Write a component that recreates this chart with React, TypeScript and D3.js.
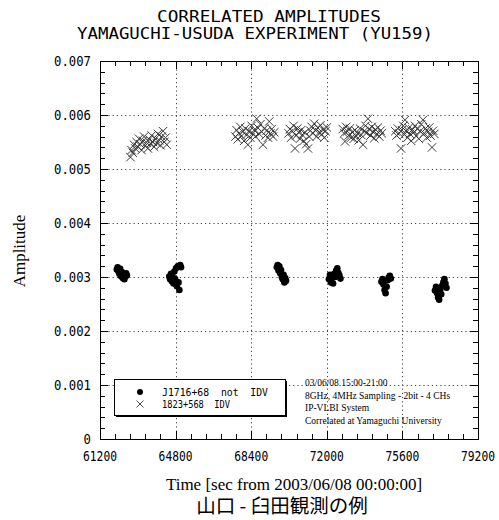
import React from 'react';
import * as d3 from 'd3';

// J1716+68 (not IDV), [sec, amplitude]
const j1716: [number, number][] = [
  [62000, 0.00314], [62040, 0.00318], [62080, 0.0031], [62120, 0.00306], [62160, 0.00315],
  [62200, 0.00302], [62240, 0.00309], [62280, 0.00298], [62320, 0.00304], [62360, 0.00296],
  [62400, 0.00301], [62440, 0.00307], [62480, 0.00303],
  [64500, 0.00301], [64540, 0.00296], [64580, 0.00306], [64620, 0.00292], [64660, 0.003],
  [64700, 0.00288], [64740, 0.0031], [64780, 0.00296], [64820, 0.00316], [64860, 0.00283],
  [64900, 0.0032], [64940, 0.0029], [64980, 0.00276], [65020, 0.00322], [65060, 0.00318],
  [69620, 0.00318], [69660, 0.00322], [69700, 0.00312], [69740, 0.0032], [69780, 0.00307],
  [69820, 0.00313], [69860, 0.003], [69900, 0.00296], [69940, 0.00304], [69980, 0.0029],
  [70020, 0.00298], [70060, 0.00293],
  [72100, 0.00296], [72150, 0.00304], [72200, 0.0029], [72250, 0.00298], [72300, 0.00288],
  [72350, 0.00306], [72400, 0.003], [72450, 0.00312], [72500, 0.00316], [72550, 0.00308],
  [72600, 0.00303], [72650, 0.00297],
  [74600, 0.00291], [74650, 0.00296], [74700, 0.00286], [74750, 0.00276], [74800, 0.0027],
  [74850, 0.00282], [74900, 0.00294], [74950, 0.00299], [75000, 0.00302], [75050, 0.00297],
  [77150, 0.00275], [77200, 0.00282], [77250, 0.0027], [77300, 0.00262], [77350, 0.00258],
  [77400, 0.00276], [77450, 0.00268], [77500, 0.00284], [77550, 0.0029], [77600, 0.00296],
  [77650, 0.00288], [77700, 0.0028],
];

// 1823+568 (IDV), [sec, amplitude]
const s1823: [number, number][] = [
  [62650, 0.00522], [62700, 0.00535], [62760, 0.0053], [62820, 0.00545], [62880, 0.00538],
  [62940, 0.0055], [63000, 0.00541], [63060, 0.00556], [63120, 0.00546], [63180, 0.00535],
  [63240, 0.00552], [63300, 0.0056], [63360, 0.00543], [63420, 0.00549], [63480, 0.00538],
  [63540, 0.00555], [63600, 0.00547], [63660, 0.00562], [63720, 0.0055], [63780, 0.00541],
  [63840, 0.00556], [63900, 0.00548], [63960, 0.00565], [64020, 0.00553], [64080, 0.00544],
  [64140, 0.0056], [64200, 0.0057], [64260, 0.0055], [64320, 0.00558], [64380, 0.00545],
  [67650, 0.0056], [67700, 0.00572], [67760, 0.00555], [67820, 0.00566], [67880, 0.00578],
  [67940, 0.00561], [68000, 0.00569], [68060, 0.00552], [68120, 0.00575], [68180, 0.00563],
  [68240, 0.00545], [68300, 0.0057], [68360, 0.00558], [68420, 0.0058], [68480, 0.00566],
  [68540, 0.00572], [68600, 0.0056], [68660, 0.00593], [68720, 0.00576], [68780, 0.00565],
  [68840, 0.00583], [68900, 0.00569], [68960, 0.00545], [69020, 0.00575], [69080, 0.00562],
  [69140, 0.00571], [69200, 0.00558], [69260, 0.00588], [69320, 0.00566], [69380, 0.00574],
  [69440, 0.0056], [69500, 0.00568],
  [70180, 0.00566], [70240, 0.00574], [70300, 0.00558], [70360, 0.0057], [70420, 0.0058],
  [70486, 0.00538], [70540, 0.00562], [70600, 0.00575], [70660, 0.00568], [70720, 0.00556],
  [70780, 0.00572], [70840, 0.00563], [70900, 0.00552], [70960, 0.00568], [71020, 0.00546],
  [71105, 0.00538], [71160, 0.0056], [71220, 0.00571], [71280, 0.00578], [71340, 0.00566],
  [71400, 0.00584], [71460, 0.00572], [71520, 0.0056], [71580, 0.00576], [71640, 0.00568],
  [71700, 0.00581], [71760, 0.00564], [71820, 0.00573], [71880, 0.00558], [71940, 0.0057],
  [72000, 0.00577],
  [72760, 0.00574], [72820, 0.00566], [72867, 0.00551], [72920, 0.00578], [72980, 0.0057],
  [73040, 0.00562], [73100, 0.00575], [73160, 0.00558], [73220, 0.00568], [73280, 0.00556],
  [73340, 0.00572], [73400, 0.00561], [73460, 0.00566], [73520, 0.00553], [73580, 0.00575],
  [73640, 0.00563], [73724, 0.00545], [73780, 0.0057], [73840, 0.0058], [73900, 0.00567],
  [73962, 0.00593], [74020, 0.00574], [74080, 0.00562], [74140, 0.00578], [74200, 0.00569],
  [74260, 0.00557], [74320, 0.00573], [74380, 0.00565], [74440, 0.00577], [74500, 0.0056],
  [74560, 0.00571], [74620, 0.00566],
  [75260, 0.0057], [75320, 0.00562], [75380, 0.00575], [75440, 0.00566], [75533, 0.00538],
  [75580, 0.00572], [75640, 0.0058], [75700, 0.00564], [75724, 0.00591], [75780, 0.0057],
  [75840, 0.00558], [75900, 0.00576], [75960, 0.00565], [76020, 0.00552], [76080, 0.00573],
  [76140, 0.00568], [76200, 0.0058], [76260, 0.00561], [76320, 0.00574], [76380, 0.00556],
  [76440, 0.0057], [76500, 0.00583], [76581, 0.00591], [76640, 0.00566], [76700, 0.00575],
  [76760, 0.00558], [76820, 0.00569], [76880, 0.00577], [76940, 0.00562], [77010, 0.0054],
  [77060, 0.00571], [77120, 0.00565],
];

const xTicks = [61200, 64800, 68400, 72000, 75600, 79200];
const yTicks = [0, 0.001, 0.002, 0.003, 0.004, 0.005, 0.006, 0.007];
const yTickLabels = ['0', '0.001', '0.002', '0.003', '0.004', '0.005', '0.006', '0.007'];
const legendLabels = ['J1716+68  not  IDV', '1823+568  IDV'];
const notes = [
  '03/06/08 15:00-21:00',
  '8GHz, 4MHz Sampling - 2bit - 4 CHs',
  'IP-VLBI System',
  'Correlated at Yamaguchi University',
];

const W = 499;
const H = 520;
const left = 100;
const right = 478;
const top = 61;
const bottom = 439;
const mono = '"DejaVu Sans Mono", monospace';
const serif = '"Liberation Serif", "Times New Roman", serif';

export default function App() {
  const x = d3.scaleLinear().domain([61200, 79200]).range([left, right]);
  const y = d3.scaleLinear().domain([0, 0.007]).range([bottom, top]);
  const xMinor = d3.range(61200, 79200 + 1, 720);
  const yMinor = d3.range(0, 70 + 1, 2).map((v) => v / 10000);
  const cross = 4.2;

  return (
    <svg width={W} height={H} style={{ position: 'absolute', left: 0, top: 0, background: '#fff' }}>
      <rect width={W} height={H} fill="#fff" />
      {/* title */}
      <text x={269} y={22} textAnchor="middle" fontFamily={mono} fontSize={16} textLength={224} lengthAdjust="spacingAndGlyphs">
        CORRELATED AMPLITUDES
      </text>
      <text x={255} y={39} textAnchor="middle" fontFamily={mono} fontSize={16} textLength={356} lengthAdjust="spacingAndGlyphs">
        YAMAGUCHI-USUDA EXPERIMENT (YU159)
      </text>

      {/* grid */}
      <g stroke="#444" strokeWidth={1} strokeDasharray="1.2,3">
        {yTicks.slice(1, -1).map((t) => (
          <line key={'gy' + t} x1={left} x2={right} y1={Math.round(y(t)) + 0.5} y2={Math.round(y(t)) + 0.5} />
        ))}
        {xTicks.slice(1, -1).map((t) => (
          <line key={'gx' + t} x1={Math.round(x(t)) + 0.5} x2={Math.round(x(t)) + 0.5} y1={top} y2={bottom} />
        ))}
      </g>

      {/* minor/major ticks */}
      <g stroke="#000" strokeWidth={1}>
        {xMinor.map((t) => {
          const major = xTicks.includes(t);
          const px = Math.round(x(t)) + 0.5;
          const len = major ? 8 : 5;
          return (
            <g key={'xt' + t}>
              <line x1={px} x2={px} y1={bottom} y2={bottom - len} />
              <line x1={px} x2={px} y1={top} y2={top + len} />
            </g>
          );
        })}
        {yMinor.map((t) => {
          const py = Math.round(y(t)) + 0.5;
          const major = yTicks.some((v) => Math.abs(v - t) < 1e-9);
          const len = major ? 8 : 5;
          return (
            <g key={'yt' + t}>
              <line x1={left} x2={left + len} y1={py} y2={py} />
              <line x1={right} x2={right - len} y1={py} y2={py} />
            </g>
          );
        })}
      </g>

      {/* frame */}
      <rect x={left + 0.5} y={top + 0.5} width={right - left} height={bottom - top} fill="none" stroke="#000" strokeWidth={1} />

      {/* tick labels */}
      {yTicks.map((t, i) => {
        const lbl = yTickLabels[i];
        return (
          <text key={'yl' + t} x={91} y={y(t) + 5} textAnchor="end" fontFamily={mono} fontSize={14}
            textLength={lbl.length * 7.4} lengthAdjust="spacingAndGlyphs">
            {lbl}
          </text>
        );
      })}
      {xTicks.map((t) => (
        <text key={'xl' + t} x={x(t)} y={461} textAnchor="middle" fontFamily={mono} fontSize={14}
          textLength={34} lengthAdjust="spacingAndGlyphs">
          {t}
        </text>
      ))}

      {/* axis titles */}
      <text transform="translate(25,251) rotate(-90)" textAnchor="middle" fontFamily={serif} fontSize={17} fill="#000">
        Amplitude
      </text>
      <text x={294} y={490} textAnchor="middle" fontFamily={serif} fontSize={17}>
        Time [sec from 2003/06/08 00:00:00]
      </text>
      <text x={282} y={513} textAnchor="middle" fontFamily={'"Noto Sans CJK JP", sans-serif'} fontSize={19.5}>
        山口 - 臼田観測の例
      </text>

      {/* 1823+568 crosses */}
      <g stroke="#3a3a3a" strokeWidth={1}>
        {s1823.map(([t, a], i) => {
          const cx = x(t);
          const cy = y(a);
          return (
            <g key={'c' + i}>
              <line x1={cx - cross} y1={cy - cross} x2={cx + cross} y2={cy + cross} />
              <line x1={cx - cross} y1={cy + cross} x2={cx + cross} y2={cy - cross} />
            </g>
          );
        })}
      </g>

      {/* J1716+68 dots */}
      <g fill="#000">
        {j1716.map(([t, a], i) => (
          <circle key={'d' + i} cx={x(t)} cy={y(a)} r={3.3} />
        ))}
      </g>

      {/* legend */}
      <rect x={116} y={381} width={171} height={36} fill="#000" />
      <rect x={114.5} y={379.5} width={171} height={36} fill="#fff" stroke="#000" strokeWidth={1} />
      <circle cx={140} cy={392} r={3} fill="#000" />
      <g stroke="#333" strokeWidth={0.9}>
        <line x1={136.5} y1={400.5} x2={143.5} y2={407.5} />
        <line x1={136.5} y1={407.5} x2={143.5} y2={400.5} />
      </g>
      <text x={162} y={396} fontFamily={mono} fontSize={11} textLength={106} lengthAdjust="spacingAndGlyphs" xmlSpace="preserve">
        {legendLabels[0]}
      </text>
      <text x={162} y={408} fontFamily={mono} fontSize={11} textLength={68} lengthAdjust="spacingAndGlyphs" xmlSpace="preserve">
        {legendLabels[1]}
      </text>

      {/* notes */}
      {notes.map((n, i) => (
        <text key={'n' + i} x={305} y={386 + i * 12.7} fontFamily={serif} fontSize={9.5}>
          {n}
        </text>
      ))}
    </svg>
  );
}
